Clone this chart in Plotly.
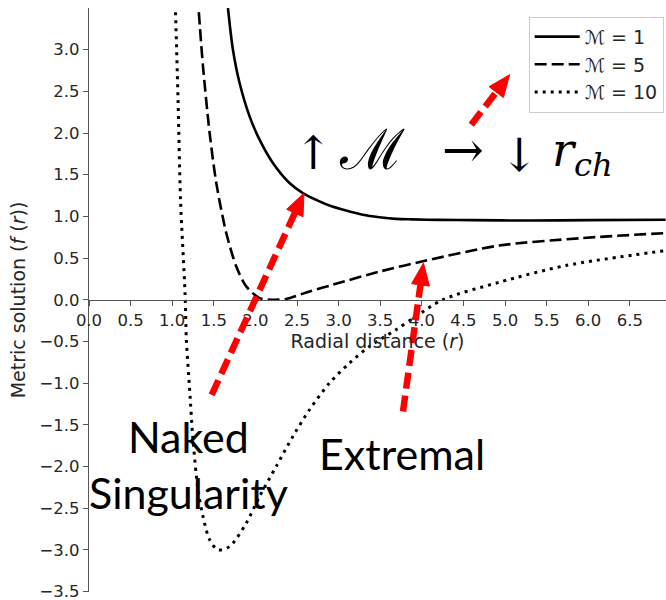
import numpy as np
import plotly.graph_objects as go

# ---------------- data ----------------
r_m1 = [1.67, 1.73, 1.81, 1.93, 2.05, 2.21, 2.41, 2.57, 2.77, 2.89, 3.09, 3.29, 3.49, 3.69, 3.89, 4.20, 4.60, 5.29, 6.00, 6.93]
f_m1 = [3.50, 3.00, 2.60, 2.20, 1.92, 1.64, 1.40, 1.28, 1.18, 1.13, 1.07, 1.02, 0.99, 0.97, 0.964, 0.958, 0.955, 0.95, 0.955, 0.96]

r_m5 = [1.32, 1.37, 1.45, 1.53, 1.65, 1.77, 1.89, 2.05, 2.21, 2.37, 2.65, 2.93, 3.50, 4.05, 4.93, 5.93, 6.93]
f_m5 = [3.45, 2.80, 2.00, 1.40, 0.80, 0.40, 0.16, 0.02, 0.00, 0.01, 0.10, 0.18, 0.34, 0.47, 0.65, 0.74, 0.80]

r_m10 = [1.04, 1.07, 1.10, 1.155, 1.17, 1.21, 1.25, 1.31, 1.37, 1.45, 1.55, 1.69, 1.89, 2.05, 2.25, 2.45,
         2.65, 2.89, 3.13, 3.37, 3.69, 3.93, 4.25, 4.93, 5.73, 6.93]
f_m10 = [3.45, 2.40, 1.20, 0.06, -0.48, -1.08, -1.68, -2.28, -2.60, -2.88, -3.00, -2.96, -2.68, -2.36, -2.00, -1.64,
         -1.32, -1.00, -0.76, -0.56, -0.36, -0.20, 0.00, 0.21, 0.41, 0.59]

series_names = ["ℳ = 1", "ℳ = 5", "ℳ = 10"]

x_ticks = [0.0, 0.5, 1.0, 1.5, 2.0, 2.5, 3.0, 3.5, 4.0, 4.5, 5.0, 5.5, 6.0, 6.5]
y_ticks = [-3.5, -3.0, -2.5, -2.0, -1.5, -1.0, -0.5, 0.0, 0.5, 1.0, 1.5, 2.0, 2.5, 3.0]

# annotation arrows: (tail r, tail f, tip r, tip f)
arrows = [
    (1.475, -1.14, 2.584, 1.28),
    (3.774, -1.34, 4.020, 0.44),
    (4.594, 2.10, 5.056, 2.70),
]

# pieces of the big formula "↑M → ↓r_ch": (text, r, f, size)
formula = [
    ("↑", 2.698, 1.76, 46),
    ("ℳ", 3.40, 1.80, 56),
    ("→", 4.50, 1.80, 50),
    ("↓", 5.18, 1.74, 46),
    ("<i>r</i><sub><i>ch</i></sub>", 5.93, 1.76, 46),
]

# ---------------- figure ----------------
X_RANGE = [0, 6.935]
Y_RANGE = [-3.506, 3.5]
W, H = 666, 600
ML, MR, MT, MB = 89, 0, 8, 8
kx = (W - ML - MR) / (X_RANGE[1] - X_RANGE[0])
ky = (H - MT - MB) / (Y_RANGE[1] - Y_RANGE[0])

fig = go.Figure()
styles = [dict(dash="solid", width=2.6), dict(dash="12px,5px", width=2.6), dict(dash="3px,5px", width=3)]
for (rx, fy), name, st in zip([(r_m1, f_m1), (r_m5, f_m5), (r_m10, f_m10)], series_names, styles):
    fig.add_trace(go.Scatter(x=rx, y=fy, mode="lines", name=name,
                             line=dict(color="black", shape="spline", smoothing=0.8, **st)))

shapes = []
HEAD_L, HEAD_W = 22, 18
for (x0, y0, x1, y1) in arrows:
    p0 = np.array([x0 * kx, y0 * ky])
    p1 = np.array([x1 * kx, y1 * ky])
    u = (p1 - p0) / np.linalg.norm(p1 - p0)
    n = np.array([-u[1], u[0]])
    base = p1 - HEAD_L * u
    c1 = base + n * HEAD_W / 2
    c2 = base - n * HEAD_W / 2
    lb = base + 2 * u
    shapes.append(dict(type="line", xref="x", yref="y", x0=x0, y0=y0, x1=lb[0] / kx, y1=lb[1] / ky,
                       line=dict(color="#ff0000", width=6.5, dash="16px,7px")))
    path = "M {:.4f},{:.4f} L {:.4f},{:.4f} L {:.4f},{:.4f} Z".format(
        x1, y1, c1[0] / kx, c1[1] / ky, c2[0] / kx, c2[1] / ky)
    shapes.append(dict(type="path", xref="x", yref="y", path=path,
                       fillcolor="#ff0000", line=dict(color="#ff0000", width=1)))

annotations = []
for txt, fx, fy, sz in formula:
    annotations.append(dict(x=fx, y=fy, xref="x", yref="y", showarrow=False, text=txt,
                            font=dict(family="DejaVu Serif", size=sz, color="black")))
annotations += [
    dict(x=1.2, y=-1.98, xref="x", yref="y", showarrow=False,
         text="Naked<br>Singularity",
         font=dict(family="Lato", size=43, color="black")),
    dict(x=3.76, y=-1.84, xref="x", yref="y", showarrow=False,
         text="Extremal",
         font=dict(family="Lato", size=43, color="black")),
]

axis_col = "#555555"
tick_font = dict(family="DejaVu Sans", size=16.5, color="#262626")
title_font = dict(family="DejaVu Sans", size=19, color="#262626")

fig.update_layout(
    width=W, height=H,
    margin=dict(l=ML, r=MR, t=MT, b=MB),
    paper_bgcolor="white", plot_bgcolor="white",
    shapes=shapes, annotations=annotations,
    xaxis=dict(range=X_RANGE, tickvals=x_ticks, ticktext=["{:.1f}".format(v) for v in x_ticks],
               showline=True, linecolor=axis_col, linewidth=1.3, ticks="outside", ticklen=5,
               tickcolor=axis_col, tickwidth=1.3, showgrid=False, zeroline=False,
               anchor="free", position=0.5, tickfont=tick_font, ticklabeloverflow="allow",
               title=dict(text="Radial distance (<i>r</i>)", font=title_font, standoff=2)),
    yaxis=dict(range=Y_RANGE, tickvals=y_ticks, ticktext=["{:.1f}".format(v).replace("-", "−") for v in y_ticks],
               showline=True, linecolor=axis_col, linewidth=1.3, ticks="outside", ticklen=5,
               tickcolor=axis_col, tickwidth=1.3, showgrid=False, zeroline=False,
               tickfont=tick_font, ticklabeloverflow="allow",
               title=dict(text="Metric solution (<i>f</i> (<i>r</i>))", font=title_font, standoff=8)),
    legend=dict(x=0.996, y=0.985, xanchor="right", yanchor="top", bgcolor="white",
                bordercolor="#cccccc", borderwidth=1, itemwidth=45,
                font=dict(family="DejaVu Sans", size=19, color="#262626")),
    showlegend=True,
)

fig.write_html("out.html")
